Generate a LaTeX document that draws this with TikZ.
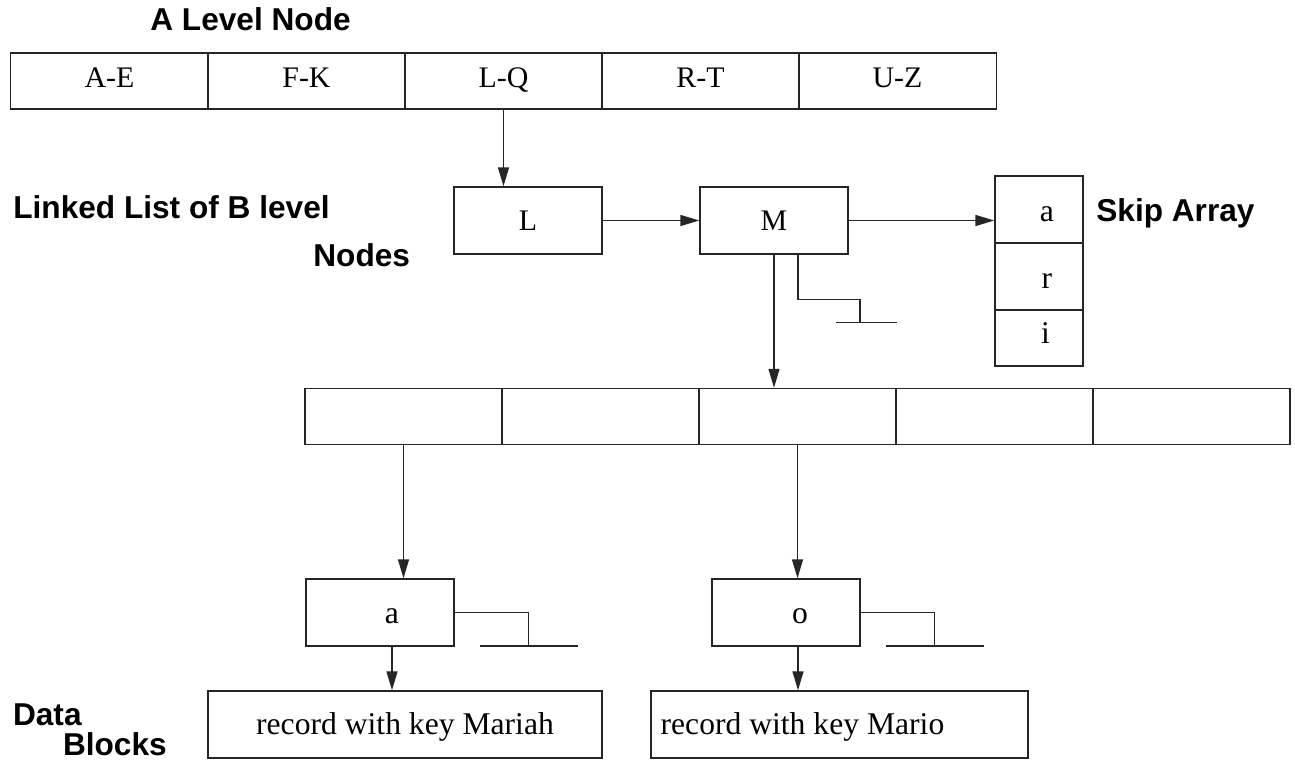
\documentclass[tikz,border=0pt]{standalone}
\usepackage{fontspec}
\setmainfont{Liberation Serif}
\setsansfont{Liberation Sans}
\usetikzlibrary{positioning,arrows.meta}
\newcommand{\pxu}{0.02cm}
\tikzstyle{pixelGrid} = [x=\pxu, y=-\pxu]
\tikzstyle{boxLine} = [draw=black!85, line width=0.8pt]
\tikzstyle{arrayCell} = [boxLine, rectangle, inner sep=0pt, minimum width=198*\pxu, minimum height=56*\pxu, font=\fontsize{17}{19}\selectfont, text height=11pt, text depth=3.6pt]
\tikzstyle{listNode} = [boxLine, rectangle, inner sep=0pt, minimum width=148*\pxu, minimum height=67*\pxu, font=\fontsize{17}{19}\selectfont, text height=11.1pt, text depth=0pt]
\tikzstyle{keyNode} = [listNode, font=\fontsize{18}{20}\selectfont, text height=13pt]
\tikzstyle{skipCell} = [boxLine, rectangle, inner sep=0pt, minimum width=88*\pxu, font=\fontsize{18}{20}\selectfont, text height=13.6pt, text depth=0pt]
\tikzstyle{recordBox} = [boxLine, rectangle, inner sep=0pt, minimum height=67*\pxu, font=\fontsize{18}{20}\selectfont, text height=11.8pt, text depth=0pt]
\tikzstyle{recordText} = [inner sep=0pt, font=\fontsize{18}{20}\selectfont, text height=11.8pt, text depth=0pt]
\tikzstyle{titleText} = [font=\sffamily\bfseries\fontsize{18}{20}\selectfont, inner sep=0pt, anchor=base west]
\tikzstyle{pointer} = [draw=black!85, line width=0.8pt, -{Triangle[length=0.38cm, width=0.22cm]}]
\tikzstyle{nullLine} = [draw=black!85, line width=0.8pt]
\newcommand{\nullLink}[1]{\draw [nullLine] (#1.east) -- ++(74,0) -- ++(0,33.5) ++(-49,0) -- ++(98,0);}
\newcommand{\shiftedText}[2]{\hspace*{#1}#2}

\begin{document}
\begin{tikzpicture}[pixelGrid]
  \useasboundingbox (0,0) rectangle (1295,760);

  \node [titleText] (aLevelTitle) at (150,31) {A Level Node};
  \foreach \range [count=\i] in {A-E,F-K,L-Q,R-T,U-Z}
    \node [arrayCell] (aLevel\i) at ({11 + 98.5 + 197*(\i - 1)},81) {\range};

  \node [titleText] (listTitle) at (13,219) {Linked List of B level};
  \node [titleText] (listTitleNodes) at (313,267) {Nodes};
  \node [listNode] (lNode) at (528,220.5) {L};
  \node [listNode] (mNode) at (774,220.5) {M};

  \node [skipCell, minimum height=67*\pxu] (skipA) at (1039,209.5) {\shiftedText{0.32cm}{a}};
  \node [skipCell, minimum height=67*\pxu] (skipR) at (1039,276.5) {\shiftedText{0.32cm}{r}};
  \node [skipCell, minimum height=56*\pxu, text height=6pt] (skipI) at (1039,338) {\shiftedText{0.26cm}{i}};
  \node [titleText] (skipTitle) at (1096,222) {Skip Array};

  \foreach \i in {1,...,5}
    \node [arrayCell, minimum width=197*\pxu] (bucket\i) at ({305 + 98.5 + 197*(\i - 1)},416.5) {};

  \node [keyNode] (aNode) at (380,612.5) {\shiftedText{0.48cm}{a}};
  \node [keyNode] (oNode) at (786,612.5) {\shiftedText{0.56cm}{o}};

  \node [recordBox, minimum width=394*\pxu] (recMariah) at (405,724.5) {record with key Mariah};
  \node [recordBox, minimum width=377*\pxu] (recMario) at (839.5,724.5) {};
  \node [recordText, right=10*\pxu of recMario.west] (recMarioText) {record with key Mario};
  \node [titleText] (dataTitle) at (12.7,725.7) {Data};
  \node [titleText] (dataTitleBlocks) at (62.7,755.7) {Blocks};

  \draw [pointer] (aLevel3.south) -- (aLevel3.south |- lNode.north);
  \draw [pointer] (lNode.east) -- (mNode.west);
  \draw [pointer] (mNode.east) -- (mNode.east -| skipA.west);
  \draw [pointer] (mNode.south) -- (mNode.south |- bucket3.north);
  \draw [nullLine] ([xshift=24*\pxu]mNode.south) -- ++(0,45) -- ++(62,0) -- ++(0,23) ++(-24,0) -- ++(61,0);

  \draw [pointer] (bucket1.south) -- (bucket1.south |- aNode.north);
  \draw [pointer] (bucket3.south) -- (bucket3.south |- oNode.north);
  \draw [pointer] ([xshift=12*\pxu]aNode.south) -- ([xshift=12*\pxu]aNode.south |- recMariah.north);
  \draw [pointer] ([xshift=12*\pxu]oNode.south) -- ([xshift=12*\pxu]oNode.south |- recMario.north);
  \nullLink{aNode}
  \nullLink{oNode}
\end{tikzpicture}
\end{document}
